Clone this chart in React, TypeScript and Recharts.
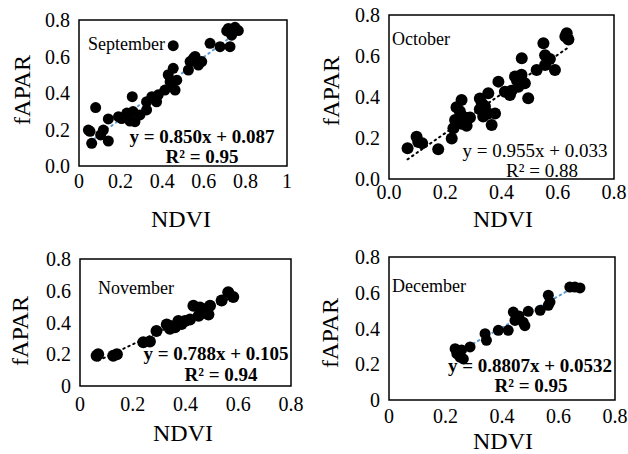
import { ScatterChart, Scatter, XAxis, YAxis, ReferenceLine, ReferenceArea } from "recharts";

// NDVI / fAPAR pairs
const sepPoints = [
  [0.053, 0.19], [0.061, 0.124], [0.045, 0.197], [0.117, 0.197], [0.141, 0.137],
  [0.104, 0.17], [0.08, 0.32], [0.141, 0.258], [0.205, 0.26], [0.256, 0.38],
  [0.26, 0.298], [0.269, 0.243], [0.245, 0.246], [0.293, 0.28], [0.325, 0.352],
  [0.35, 0.38], [0.373, 0.352], [0.325, 0.307], [0.381, 0.39], [0.413, 0.416],
  [0.438, 0.462], [0.429, 0.5], [0.453, 0.535], [0.462, 0.416], [0.47, 0.47],
  [0.445, 0.44], [0.453, 0.659], [0.534, 0.572], [0.55, 0.59], [0.574, 0.553],
  [0.526, 0.526], [0.59, 0.572], [0.558, 0.6], [0.63, 0.672], [0.678, 0.654],
  [0.726, 0.654], [0.718, 0.754], [0.75, 0.76], [0.766, 0.742], [0.734, 0.717],
  [0.71, 0.74], [0.19, 0.27], [0.23, 0.29],
];
const octPoints = [
  [0.066, 0.15], [0.098, 0.206], [0.118, 0.174], [0.104, 0.18], [0.175, 0.145],
  [0.223, 0.198], [0.229, 0.247], [0.235, 0.288], [0.258, 0.385], [0.24, 0.35],
  [0.252, 0.33], [0.27, 0.3], [0.276, 0.26], [0.288, 0.3], [0.258, 0.27],
  [0.33, 0.369], [0.323, 0.34], [0.341, 0.355], [0.335, 0.305], [0.353, 0.418],
  [0.365, 0.263], [0.353, 0.32], [0.377, 0.32], [0.323, 0.393], [0.389, 0.475],
  [0.412, 0.426], [0.43, 0.41], [0.448, 0.5], [0.471, 0.508], [0.46, 0.45],
  [0.483, 0.467], [0.495, 0.394], [0.436, 0.43], [0.472, 0.589], [0.525, 0.532],
  [0.555, 0.556], [0.59, 0.532], [0.549, 0.662], [0.555, 0.604], [0.572, 0.585],
  [0.632, 0.711], [0.638, 0.68], [0.627, 0.695], [0.455, 0.48], [0.34, 0.34],
];
const novPoints = [
  [0.063, 0.19], [0.069, 0.2], [0.126, 0.19], [0.14, 0.2], [0.24, 0.275],
  [0.265, 0.28], [0.29, 0.346], [0.329, 0.388], [0.347, 0.377], [0.341, 0.36],
  [0.373, 0.41], [0.398, 0.41], [0.417, 0.419], [0.43, 0.506], [0.45, 0.443],
  [0.455, 0.494], [0.474, 0.48], [0.493, 0.506], [0.487, 0.45], [0.537, 0.538],
  [0.562, 0.591], [0.581, 0.56], [0.36, 0.37], [0.385, 0.39], [0.46, 0.46],
];
const decPoints = [
  [0.234, 0.287], [0.257, 0.28], [0.287, 0.297], [0.251, 0.24], [0.263, 0.23],
  [0.24, 0.26], [0.34, 0.371], [0.345, 0.334], [0.387, 0.39], [0.422, 0.39],
  [0.44, 0.492], [0.446, 0.445], [0.475, 0.435], [0.481, 0.416], [0.493, 0.496],
  [0.535, 0.502], [0.564, 0.586], [0.564, 0.53], [0.57, 0.548], [0.64, 0.632],
  [0.658, 0.632], [0.676, 0.627], [0.46, 0.47],
];

// linear fits as printed on each panel: slope, intercept, x range
const sepFit = [0.85, 0.087, 0.05, 0.77];
const octFit = [0.955, 0.033, 0.066, 0.64];
const novFit = [0.788, 0.105, 0.07, 0.58];
const decFit = [0.8807, 0.0532, 0.23, 0.68];

const ticks0to1 = [0, 0.2, 0.4, 0.6, 0.8, 1];
const ticks0to08 = [0, 0.2, 0.4, 0.6, 0.8];

const serif = '"Liberation Serif", "Times New Roman", serif';
const fmt1 = (v: number) => v.toFixed(1);
const fmtG = (v: number) => String(v);

const toRows = (pts: number[][]) => pts.map(([x, y]) => ({ x, y }));

const Dot = (r: number) => (p: any) => <circle cx={p.cx} cy={p.cy} r={r} fill="#000" />;

const XTick = (fmt: (v: number) => string) => (p: any) => (
  <text x={p.x} y={p.y} dy="0.71em" textAnchor="middle" fontFamily={serif} fontSize={20} fill="#000">
    {fmt(p.payload.value)}
  </text>
);
const YTick = (fmt: (v: number) => string) => (p: any) => (
  <text x={p.x} y={p.y} dy="0.35em" textAnchor="end" fontFamily={serif} fontSize={20} fill="#000">
    {fmt(p.payload.value)}
  </text>
);

function Panel(props: any) {
  const {
    left, top, width, height, margin, yW, xH, xMax, xTicks, xFmt, yFmt, points, fit, fitColor, r,
    xTickMargin, month, monthPos, eq, r2, eqPos, r2Pos, bold, yTitlePos, xTitlePos,
  } = props;
  const [a, b, x0, x1] = fit;
  return (
    <div style={{ position: "absolute", left, top }}>
      <ScatterChart width={width} height={height} margin={margin}>
        <XAxis
          type="number"
          dataKey="x"
          domain={[0, xMax]}
          ticks={xTicks}
          tick={XTick(xFmt)}
          tickLine={false}
          axisLine={false}
          tickMargin={xTickMargin}
          height={xH}
          interval={0}
        />
        <YAxis
          type="number"
          dataKey="y"
          domain={[0, 0.8]}
          ticks={ticks0to08}
          tick={YTick(yFmt)}
          tickLine={false}
          axisLine={false}
          tickMargin={3}
          width={yW}
          interval={0}
        />
        <ReferenceArea x1={0} x2={xMax} y1={0} y2={0.8} fill="none" stroke="#000" strokeWidth={1.5} fillOpacity={0} />
        <Scatter data={toRows(points)} shape={Dot(r)} isAnimationActive={false} />
        <ReferenceLine
          segment={[{ x: x0, y: a * x0 + b }, { x: x1, y: a * x1 + b }]}
          stroke={fitColor}
          strokeWidth={2}
          strokeDasharray="1.5 4"
          strokeLinecap="round"
        />
        <text x={monthPos[0]} y={monthPos[1]} fontFamily={serif} fontSize={18} fill="#000">{month}</text>
        <text x={eqPos[0]} y={eqPos[1]} fontFamily={serif} fontSize={19} fontWeight={bold ? "bold" : "normal"} textAnchor="middle" fill="#000">{eq}</text>
        <text x={r2Pos[0]} y={r2Pos[1]} fontFamily={serif} fontSize={19} fontWeight={bold ? "bold" : "normal"} textAnchor="middle" fill="#000">{r2}</text>
        <text
          x={yTitlePos[0]}
          y={yTitlePos[1]}
          transform={`rotate(-90 ${yTitlePos[0]} ${yTitlePos[1]})`}
          fontFamily={serif}
          fontSize={24}
          textAnchor="middle"
          fill="#000"
        >
          fAPAR
        </text>
        <text x={xTitlePos[0]} y={xTitlePos[1]} fontFamily={serif} fontSize={24} textAnchor="middle" fill="#000">NDVI</text>
      </ScatterChart>
    </div>
  );
}

export default function App() {
  return (
    <div style={{ position: "absolute", left: 0, top: 0, width: 628, height: 454, background: "#fff", overflow: "hidden" }}>
      <Panel
        left={0} top={0} width={300} height={240}
        margin={{ top: 20, right: 13, bottom: 0, left: 0 }} yW={79} xH={74}
        xMax={1} xTicks={ticks0to1} xFmt={fmtG} yFmt={fmt1} xTickMargin={2}
        points={sepPoints} fit={sepFit} fitColor="#5B9BD5" r={5.5}
        month="September" monthPos={[88, 50]}
        eq="y = 0.850x + 0.087" r2="R² = 0.95" bold eqPos={[202, 143]} r2Pos={[202, 163]}
        yTitlePos={[30, 90]} xTitlePos={[181, 227]}
      />
      <Panel
        left={300} top={0} width={328} height={240}
        margin={{ top: 15, right: 14, bottom: 0, left: 0 }} yW={89} xH={61}
        xMax={0.8} xTicks={ticks0to08} xFmt={fmt1} yFmt={fmt1} xTickMargin={0}
        points={octPoints} fit={octFit} fitColor="#000" r={6}
        month="October" monthPos={[92, 45]}
        eq="y = 0.955x + 0.033" r2="R² = 0.88" bold={false} eqPos={[235, 157]} r2Pos={[242, 177]}
        yTitlePos={[39, 91]} xTitlePos={[203, 227]}
      />
      <Panel
        left={0} top={240} width={310} height={214}
        margin={{ top: 19, right: 19, bottom: 0, left: 0 }} yW={80} xH={68}
        xMax={0.8} xTicks={ticks0to08} xFmt={fmtG} yFmt={fmtG} xTickMargin={5}
        points={novPoints} fit={novFit} fitColor="#000" r={6}
        month="November" monthPos={[98, 54]}
        eq="y = 0.788x + 0.105" r2="R² = 0.94" bold eqPos={[216, 120]} r2Pos={[221, 141]}
        yTitlePos={[28, 91]} xTitlePos={[183, 201]}
      />
      <Panel
        left={300} top={240} width={328} height={214}
        margin={{ top: 17, right: 13, bottom: 0, left: 0 }} yW={89} xH={54}
        xMax={0.8} xTicks={ticks0to08} xFmt={fmtG} yFmt={fmtG} xTickMargin={3}
        points={decPoints} fit={decFit} fitColor="#5B9BD5" r={5.5}
        month="December" monthPos={[92, 52]}
        eq="y = 0.8807x + 0.0532" r2="R² = 0.95" bold eqPos={[230, 132]} r2Pos={[231, 152]}
        yTitlePos={[38, 93]} xTitlePos={[203, 209]}
      />
    </div>
  );
}
